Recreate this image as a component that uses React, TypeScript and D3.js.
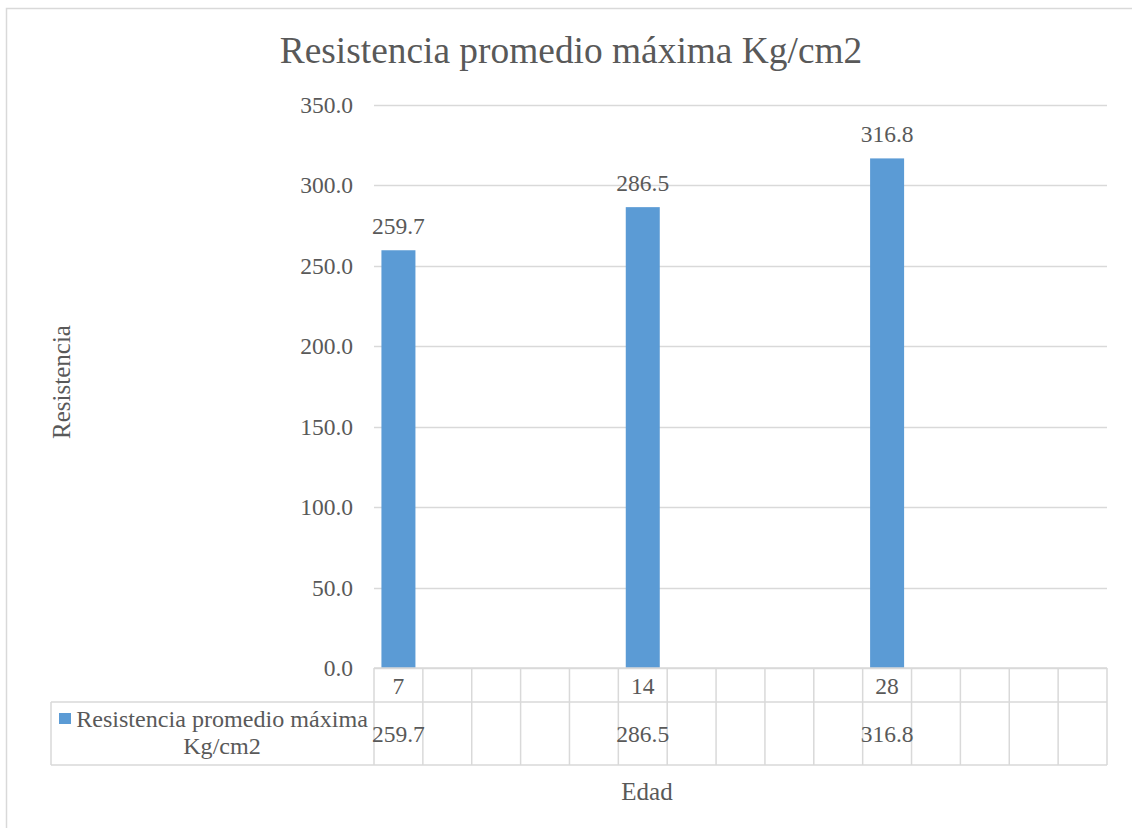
import React from "react";
import * as d3 from "d3";

const title = "Resistencia promedio máxima Kg/cm2";
const categories = ["7", "", "", "", "", "14", "", "", "", "", "28", "", "", "", ""];
const values: (number | null)[] = [259.7, null, null, null, null, 286.5, null, null, null, null, 316.8, null, null, null, null];
const yTicks = [0, 50, 100, 150, 200, 250, 300, 350];
const legendLines = ["Resistencia promedio máxima", "Kg/cm2"];
const xTitle = "Edad";
const yTitle = "Resistencia";

const W = 1132;
const H = 828;
const plotLeft = 374;
const plotRight = 1107;
const plotTop = 105;
const plotBottom = 668;
const row1Bottom = 702;
const row2Bottom = 765;
const legendLeft = 51;
const barWidth = 34;

const textColor = "#595959";
const gridColor = "#d9d9d9";
const barColor = "#5b9bd5";
const font = "'Liberation Serif', 'Times New Roman', 'DejaVu Serif', serif";

export default function App() {
  const x = d3
    .scaleBand<number>()
    .domain(categories.map((_, i) => i))
    .range([plotLeft, plotRight])
    .padding(0);
  const y = d3.scaleLinear().domain([0, 350]).range([plotBottom, plotTop]);
  const fmt = d3.format(".1f");

  const colEdges = categories.map((_, i) => x(i) as number).concat([plotRight]);

  return (
    <svg
      width={W}
      height={H}
      style={{ position: "absolute", left: 0, top: 0, background: "#fff", fontFamily: font }}
    >
      <rect x={0} y={0} width={W} height={H} fill="#fff" />
      <rect x={6.5} y={8.5} width={W + 20} height={H + 20} fill="none" stroke={gridColor} strokeWidth={1.5} />

      <text x={571} y={63} textAnchor="middle" fontSize={37.4} fill={textColor}>
        {title}
      </text>

      {yTicks.map((t) => (
        <line
          key={"g" + t}
          x1={plotLeft}
          x2={plotRight}
          y1={Math.round(y(t)) + 0.5}
          y2={Math.round(y(t)) + 0.5}
          stroke={gridColor}
          strokeWidth={1.3}
        />
      ))}
      {yTicks.map((t) => (
        <text key={"t" + t} x={353} y={y(t) + 8} textAnchor="end" fontSize={23.5} fill={textColor}>
          {fmt(t)}
        </text>
      ))}

      {values.map((v, i) =>
        v == null ? null : (
          <rect
            key={"b" + i}
            x={(x(i) as number) + x.bandwidth() / 2 - barWidth / 2}
            y={y(v)}
            width={barWidth}
            height={y(0) - y(v)}
            fill={barColor}
          />
        )
      )}
      {values.map((v, i) =>
        v == null ? null : (
          <text
            key={"l" + i}
            x={(x(i) as number) + x.bandwidth() / 2}
            y={y(v) - 16}
            textAnchor="middle"
            fontSize={23.5}
            fill={textColor}
          >
            {fmt(v)}
          </text>
        )
      )}

      <g stroke={gridColor} strokeWidth={1.5} fill="none">
        <line x1={plotLeft} x2={plotRight} y1={plotBottom} y2={plotBottom} />
        <line x1={legendLeft} x2={plotRight} y1={row1Bottom} y2={row1Bottom} />
        <line x1={legendLeft} x2={plotRight} y1={row2Bottom} y2={row2Bottom} />
        <line x1={legendLeft} x2={legendLeft} y1={row1Bottom} y2={row2Bottom} />
        {colEdges.map((cx, i) => (
          <line key={"c" + i} x1={cx} x2={cx} y1={plotBottom} y2={row2Bottom} />
        ))}
      </g>
      {categories.map((c, i) => (
        <text
          key={"cat" + i}
          x={(x(i) as number) + x.bandwidth() / 2}
          y={694}
          textAnchor="middle"
          fontSize={23.5}
          fill={textColor}
        >
          {c}
        </text>
      ))}
      {values.map((v, i) =>
        v == null ? null : (
          <text
            key={"tv" + i}
            x={(x(i) as number) + x.bandwidth() / 2}
            y={742}
            textAnchor="middle"
            fontSize={23.5}
            fill={textColor}
          >
            {fmt(v)}
          </text>
        )
      )}

      <rect x={59} y={713} width={12} height={11} fill={barColor} />
      {legendLines.map((ln, i) => (
        <text key={"lg" + i} x={222} y={727 + i * 27} textAnchor="middle" fontSize={24.1} fill={textColor}>
          {ln}
        </text>
      ))}

      <text x={647} y={800} textAnchor="middle" fontSize={25} fill={textColor}>
        {xTitle}
      </text>
      <text transform={`translate(70, 382) rotate(-90)`} textAnchor="middle" fontSize={25} fill={textColor}>
        {yTitle}
      </text>
    </svg>
  );
}
